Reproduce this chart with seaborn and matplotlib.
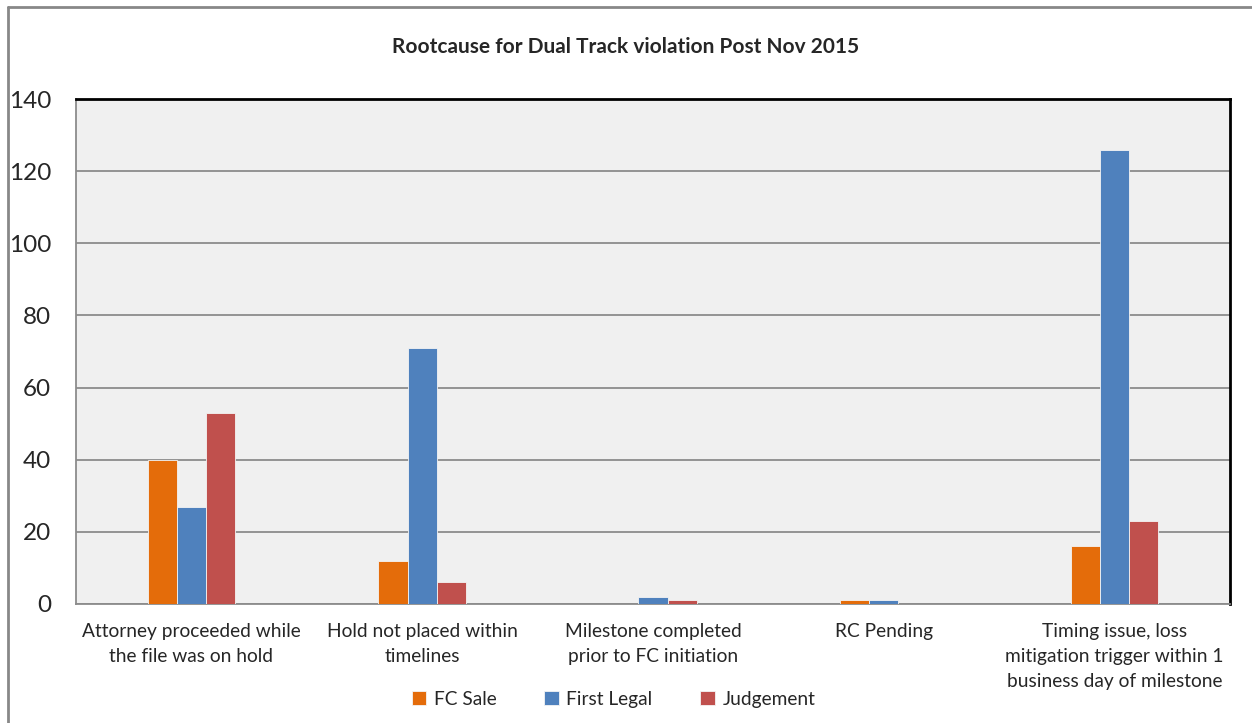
import pandas as pd
import matplotlib.pyplot as plt
import seaborn as sns
from matplotlib.lines import Line2D
from matplotlib.ticker import FixedLocator

categories = [
    "Attorney proceeded while\nthe file was on hold",
    "Hold not placed within\ntimelines",
    "Milestone completed\nprior to FC initiation",
    "RC Pending",
    "Timing issue, loss\nmitigation trigger within 1\nbusiness day of milestone",
]
series = ["FC Sale", "First Legal", "Judgement"]
fc_sale = [40, 12, 0, 1, 16]
first_legal = [27, 71, 2, 1, 126]
judgement = [53, 6, 1, 0, 23]
colors = ["#E46C0A", "#4F81BD", "#C0504D"]

df = pd.DataFrame({
    "Category": categories * 3,
    "Series": [s for s in series for _ in categories],
    "Count": fc_sale + first_legal + judgement,
})

sns.set_style("white")
plt.rcParams["font.family"] = ["Lato", "DejaVu Sans"]

fig = plt.figure(figsize=(12.52, 7.23), dpi=100)
ax = fig.add_axes([0.0607, 0.1646, 0.9217, 0.6984])
ax.set_facecolor("#F0F0F0")

sns.barplot(data=df, x="Category", y="Count", hue="Series", order=categories,
            hue_order=series, palette=colors, saturation=1, width=0.38, gap=0,
            edgecolor="#f4f4f4", linewidth=0.6, ax=ax, legend=True, zorder=3)

ax.set_ylim(0, 140)
ax.set_xlim(-0.5, len(categories) - 0.5)
ax.set_yticks(range(0, 141, 20))
ax.yaxis.grid(True, color="#8C8C8C", linewidth=1.3, zorder=0)
ax.set_axisbelow(True)
ax.tick_params(axis="y", labelsize=17.5, length=6, color="#8C8C8C", width=1, pad=12)
ax.tick_params(axis="x", which="major", labelsize=13.8, length=0, pad=14)
ax.xaxis.set_minor_locator(FixedLocator([i - 0.5 for i in range(len(categories) + 1)]))
ax.tick_params(axis="x", which="minor", length=6, color="#8C8C8C", width=1)
for lbl in ax.get_xticklabels():
    lbl.set_linespacing(1.55)
ax.set_xlabel("")
ax.set_ylabel("")

for side in ["left", "bottom"]:
    ax.spines[side].set_color("#8C8C8C")
    ax.spines[side].set_linewidth(1.3)
for side in ["top", "right"]:
    ax.spines[side].set_color("black")
    ax.spines[side].set_linewidth(2)
    ax.spines[side].set_visible(True)

fig.text(0.5, 0.935, "Rootcause for Dual Track violation Post Nov 2015",
         ha="center", va="center", fontsize=15, fontweight="bold")

handles, labels = ax.get_legend_handles_labels()
ax.legend(handles, labels, loc="center", bbox_to_anchor=(0.49, 0.033),
          bbox_transform=fig.transFigure, ncol=3, frameon=False, fontsize=13.8,
          handlelength=0.75, handleheight=0.75, columnspacing=2.5, handletextpad=0.4)

fig.add_artist(Line2D([0.0064, 0.0064], [0, 0.991], transform=fig.transFigure,
                      color="#888888", linewidth=2))
fig.add_artist(Line2D([0.0064, 1], [0.991, 0.991], transform=fig.transFigure,
                      color="#888888", linewidth=2))

fig.savefig("out.png", dpi=100)
